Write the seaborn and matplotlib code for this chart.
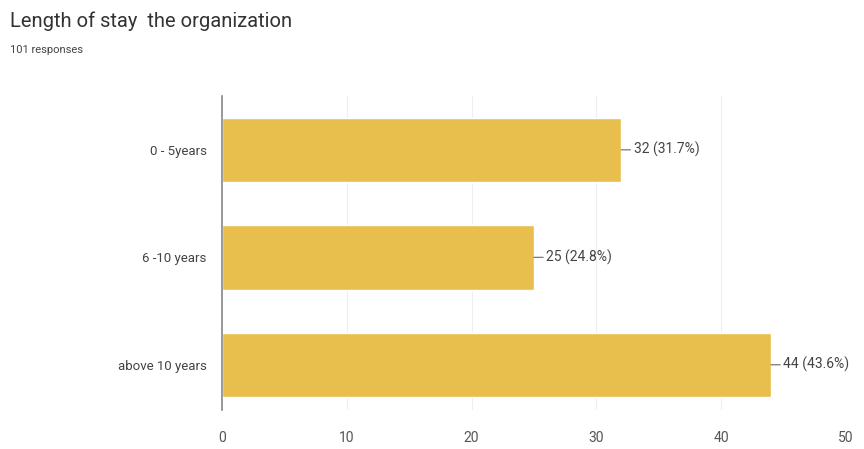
import matplotlib
matplotlib.use("Agg")
import matplotlib.pyplot as plt
import seaborn as sns
import pandas as pd

# Google Forms summary: length of stay in the organization
categories = ["0 - 5years", "6 -10 years", "above 10 years"]
counts = [32, 25, 44]
percents = [31.7, 24.8, 43.6]
xticks = [0, 10, 20, 30, 40, 50]

df = pd.DataFrame({"category": categories, "count": counts})

sns.set_theme(style="white")
plt.rcParams["font.family"] = ["Roboto", "DejaVu Sans"]

fig = plt.figure(figsize=(8.64, 4.49), dpi=100)
ax = fig.add_axes([0.257, 0.087, 0.722, 0.699])

sns.barplot(data=df, x="count", y="category", color="#E8BF4C",
            width=0.6, saturation=1, ax=ax)

ax.set_xlim(0, 50)
ax.set_ylim(2.42, -0.5)
ax.set_xticks(xticks)
ax.set_xticklabels([str(t) for t in xticks], fontsize=10, color="#555555")
ax.tick_params(axis="y", labelsize=9.5, labelcolor="#444444", length=0, pad=11)
ax.tick_params(axis="x", length=0, pad=15)
ax.set_xlabel("")
ax.set_ylabel("")

ax.grid(axis="x", color="#EEEEEE", linewidth=0.8)
ax.set_axisbelow(True)
for side in ["top", "right", "bottom"]:
    ax.spines[side].set_visible(False)
ax.spines["left"].set_color("#888888")
ax.spines["left"].set_linewidth(1.2)

# value labels with leader lines
for i, (c, p) in enumerate(zip(counts, percents)):
    ax.annotate(f"{c} ({p}%)", xy=(c, i), xytext=(c + 1.0, i),
                va="center", ha="left", fontsize=10, color="#444444",
                arrowprops=dict(arrowstyle="-", color="#666666", lw=0.8,
                                shrinkA=0, shrinkB=0),
                annotation_clip=False)

fig.text(0.012, 0.952, "Length of stay  the organization", fontsize=14.5,
         color="#333333", ha="left", va="center")
fig.text(0.012, 0.888, "101 responses", fontsize=8, color="#444444",
         ha="left", va="center")

fig.savefig("out.png", dpi=100)
